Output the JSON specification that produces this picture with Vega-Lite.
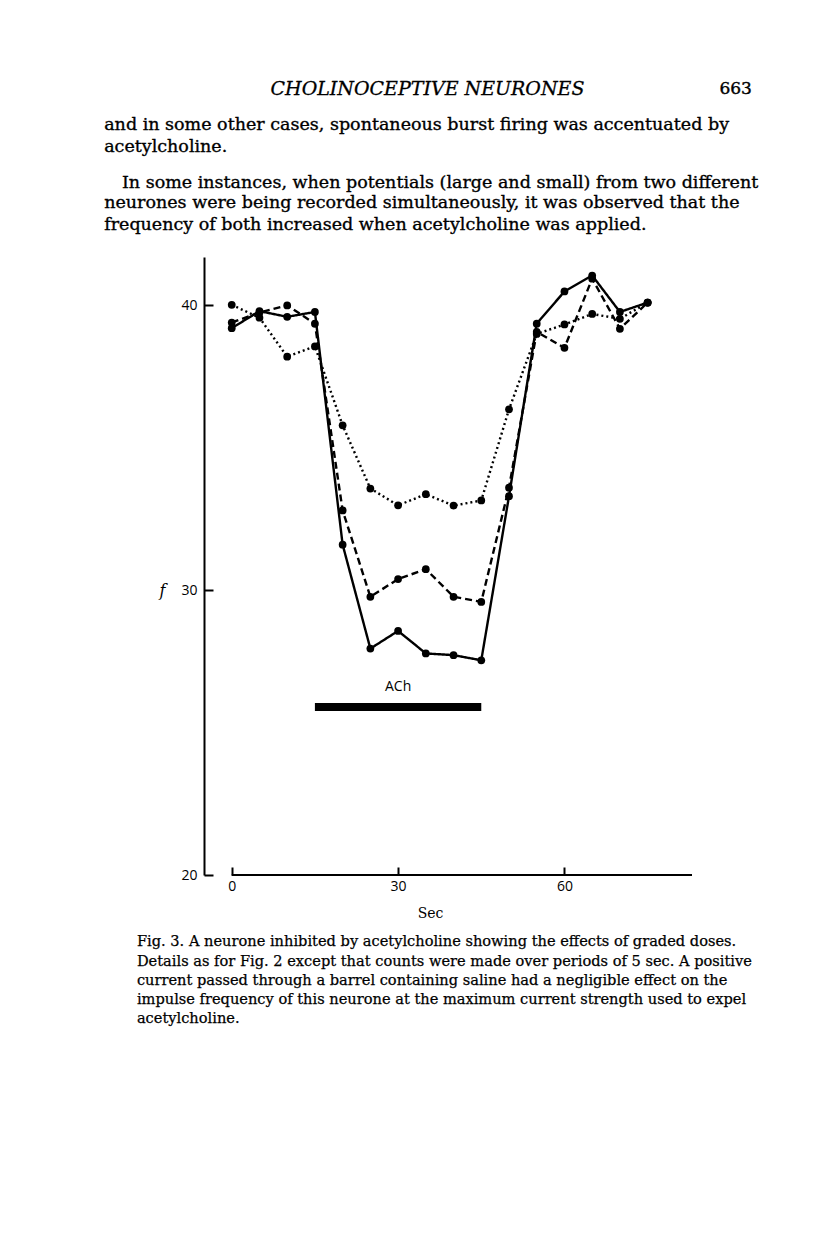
{
  "$schema": "https://vega.github.io/schema/vega-lite/v6.json",
  "width": 488,
  "height": 618,
  "autosize": {"type": "none"},
  "padding": {"left": 204, "top": 257, "right": 124, "bottom": 374},
  "background": "white",
  "config": {"view": {"stroke": null}},
  "encoding": {
    "x": {
      "field": "t", "type": "quantitative",
      "scale": {"domain": [-5, 83], "nice": false, "zero": false},
      "axis": {
        "values": [0, 30, 60], "grid": false, "domain": false,
        "tickSize": -8, "tickWidth": 2, "tickColor": "black",
        "labelFont": "Open Sans", "labelFontSize": 14, "labelColor": "black", "labelPadding": 12,
        "title": "Sec", "titleFont": "DejaVu Serif", "titleFontWeight": "normal", "titleFontSize": 14,
        "titleColor": "black", "titleX": 226, "titleY": 38, "titleBaseline": "middle", "titleAlign": "center"
      }
    },
    "y": {
      "field": "f", "type": "quantitative",
      "scale": {"domain": [20, 41.7], "nice": false, "zero": false},
      "axis": {
        "values": [20, 30, 40], "grid": false,
        "domainColor": "black", "domainWidth": 2,
        "tickSize": -9, "tickWidth": 2, "tickColor": "black",
        "labelFont": "Open Sans", "labelFontSize": 14, "labelColor": "black", "labelPadding": 16,
        "title": "f", "titleFont": "DejaVu Serif", "titleFontStyle": "italic", "titleFontWeight": "normal",
        "titleFontSize": 16, "titleColor": "black", "titleAngle": 0, "titleX": -42, "titleY": 333,
        "titleAlign": "center", "titleBaseline": "middle"
      }
    }
  },
  "layer": [
    {
      "data": {"values": [
        {"t": 0, "f": 39.2, "series": "solid"},
        {"t": 5, "f": 39.8, "series": "solid"},
        {"t": 10, "f": 39.6, "series": "solid"},
        {"t": 15, "f": 39.77, "series": "solid"},
        {"t": 20, "f": 31.6, "series": "solid"},
        {"t": 25, "f": 27.95, "series": "solid"},
        {"t": 30, "f": 28.57, "series": "solid"},
        {"t": 35, "f": 27.78, "series": "solid"},
        {"t": 40, "f": 27.72, "series": "solid"},
        {"t": 45, "f": 27.54, "series": "solid"},
        {"t": 50, "f": 33.3, "series": "solid"},
        {"t": 55, "f": 39.36, "series": "solid"},
        {"t": 60, "f": 40.49, "series": "solid"},
        {"t": 65, "f": 41.05, "series": "solid"},
        {"t": 70, "f": 39.77, "series": "solid"},
        {"t": 75, "f": 40.1, "series": "solid"},
        {"t": 0, "f": 39.4, "series": "dashed"},
        {"t": 5, "f": 39.75, "series": "dashed"},
        {"t": 10, "f": 40.0, "series": "dashed"},
        {"t": 15, "f": 39.36, "series": "dashed"},
        {"t": 20, "f": 32.8, "series": "dashed"},
        {"t": 25, "f": 29.77, "series": "dashed"},
        {"t": 30, "f": 30.39, "series": "dashed"},
        {"t": 35, "f": 30.74, "series": "dashed"},
        {"t": 40, "f": 29.77, "series": "dashed"},
        {"t": 45, "f": 29.59, "series": "dashed"},
        {"t": 50, "f": 33.6, "series": "dashed"},
        {"t": 55, "f": 39.07, "series": "dashed"},
        {"t": 60, "f": 38.51, "series": "dashed"},
        {"t": 65, "f": 40.94, "series": "dashed"},
        {"t": 70, "f": 39.18, "series": "dashed"},
        {"t": 75, "f": 40.1, "series": "dashed"},
        {"t": 0, "f": 40.02, "series": "dotted"},
        {"t": 5, "f": 39.57, "series": "dotted"},
        {"t": 10, "f": 38.2, "series": "dotted"},
        {"t": 15, "f": 38.56, "series": "dotted"},
        {"t": 20, "f": 35.79, "series": "dotted"},
        {"t": 25, "f": 33.57, "series": "dotted"},
        {"t": 30, "f": 32.98, "series": "dotted"},
        {"t": 35, "f": 33.37, "series": "dotted"},
        {"t": 40, "f": 32.97, "series": "dotted"},
        {"t": 45, "f": 33.15, "series": "dotted"},
        {"t": 50, "f": 36.35, "series": "dotted"},
        {"t": 55, "f": 39.0, "series": "dotted"},
        {"t": 60, "f": 39.33, "series": "dotted"},
        {"t": 65, "f": 39.7, "series": "dotted"},
        {"t": 70, "f": 39.53, "series": "dotted"},
        {"t": 75, "f": 40.1, "series": "dotted"}
      ]},
      "layer": [
        {
          "mark": {"type": "line", "color": "black", "strokeWidth": 2.4, "strokeCap": "butt"},
          "encoding": {
            "detail": {"field": "series"},
            "strokeDash": {
              "field": "series", "type": "nominal",
              "scale": {"domain": ["solid", "dashed", "dotted"], "range": [[1, 0], [7, 4], [2, 3]]},
              "legend": null
            }
          }
        },
        {
          "mark": {"type": "circle", "color": "black", "opacity": 1, "size": 60}
        }
      ]
    },
    {
      "data": {"values": [{"t0": 0, "t1": 83, "level": 20}]},
      "mark": {"type": "rule", "color": "black", "strokeWidth": 2},
      "encoding": {"x": {"field": "t0", "type": "quantitative"}, "x2": {"field": "t1"}, "y": {"field": "level", "type": "quantitative"}}
    },
    {
      "data": {"values": [{"t0": 15, "t1": 45, "level": 25.9}]},
      "mark": {"type": "rule", "color": "black", "strokeWidth": 8, "strokeCap": "butt"},
      "encoding": {"x": {"field": "t0", "type": "quantitative"}, "x2": {"field": "t1"}, "y": {"field": "level", "type": "quantitative"}}
    },
    {
      "data": {"values": [{"txt": "ACh", "t": 30, "f": 26.6}]},
      "mark": {"type": "text", "font": "Open Sans", "fontSize": 14, "color": "black", "align": "center", "baseline": "middle"},
      "encoding": {"text": {"field": "txt"}}
    },
    {
      "data": {"values": [{"txt": "CHOLINOCEPTIVE NEURONES", "t": 35.3, "f": 47.6}]},
      "mark": {"type": "text", "font": "DejaVu Serif", "fontStyle": "italic", "fontSize": 19, "color": "black", "stroke": "black", "strokeWidth": 0.3, "align": "center", "baseline": "middle"},
      "encoding": {"text": {"field": "txt"}}
    },
    {
      "data": {"values": [{"txt": "663", "t": 93.8, "f": 47.6}]},
      "mark": {"type": "text", "font": "DejaVu Serif", "fontSize": 17, "color": "black", "stroke": "black", "strokeWidth": 0.4, "align": "right", "baseline": "middle"},
      "encoding": {"text": {"field": "txt"}}
    },
    {
      "data": {"values": [
        {"txt": "and in some other cases, spontaneous burst firing was accentuated by", "t": -23.0, "f": 46.33},
        {"txt": "acetylcholine.", "t": -23.0, "f": 45.56},
        {"txt": "In some instances, when potentials (large and small) from two different", "t": -19.8, "f": 44.30},
        {"txt": "neurones were being recorded simultaneously, it was observed that the", "t": -23.0, "f": 43.58},
        {"txt": "frequency of both increased when acetylcholine was applied.", "t": -23.0, "f": 42.82}
      ]},
      "mark": {"type": "text", "font": "DejaVu Serif", "fontSize": 17.5, "color": "black", "stroke": "black", "strokeWidth": 0.35, "align": "left", "baseline": "middle"},
      "encoding": {"text": {"field": "txt"}}
    },
    {
      "data": {"values": [
        {"txt": "Fig. 3. A neurone inhibited by acetylcholine showing the effects of graded doses.", "t": -17.1, "f": 17.65},
        {"txt": "Details as for Fig. 2 except that counts were made over periods of 5 sec. A positive", "t": -17.1, "f": 16.95},
        {"txt": "current passed through a barrel containing saline had a negligible effect on the", "t": -17.1, "f": 16.28},
        {"txt": "impulse frequency of this neurone at the maximum current strength used to expel", "t": -17.1, "f": 15.61},
        {"txt": "acetylcholine.", "t": -17.1, "f": 14.94}
      ]},
      "mark": {"type": "text", "font": "DejaVu Serif", "fontSize": 14.6, "color": "black", "stroke": "black", "strokeWidth": 0.25, "align": "left", "baseline": "middle"},
      "encoding": {"text": {"field": "txt"}}
    }
  ]
}
